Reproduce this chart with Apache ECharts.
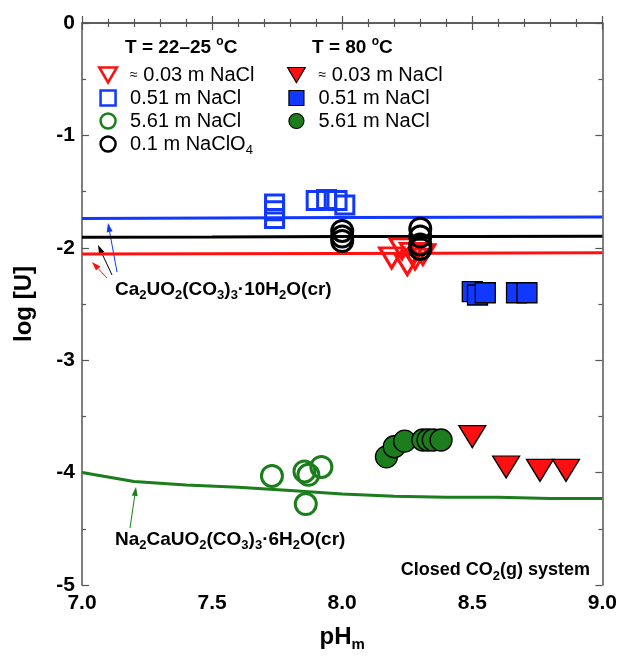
<!DOCTYPE html>
<html><head><meta charset="utf-8">
<script src="https://cdn.jsdelivr.net/npm/echarts@6/dist/echarts.min.js"></script>
<style>html,body{margin:0;padding:0;background:#fff}#c{width:620px;height:657px}</style>
</head><body><div id="c"></div>
<script>
// ---- data (pH_m, log[U]) ----
const redOpen = [[8.19,-2.09],[8.23,-2.01],[8.25,-2.15],[8.28,-2.10],[8.31,-2.06],[8.27,-2.05]];
const blueOpen = [[7.74,-1.61],[7.74,-1.67],[7.74,-1.74],[7.90,-1.58],[7.94,-1.57],[7.98,-1.58],[8.01,-1.62]];
const greenOpen = [[7.73,-4.03],[7.855,-3.99],[7.87,-4.02],[7.92,-3.95],[7.86,-4.28]];
const blackOpen = [[8.00,-1.85],[8.00,-1.90],[8.00,-1.94],[8.30,-1.83],[8.30,-1.90],[8.30,-1.97],[8.30,-2.01]];
const redFilled = [[8.50,-3.68],[8.63,-3.95],[8.76,-3.98],[8.86,-3.98]];
const blueFilled = [[8.50,-2.39],[8.52,-2.42],[8.55,-2.40],[8.67,-2.40],[8.71,-2.40]];
const greenFilled = [[8.17,-3.86],[8.20,-3.77],[8.24,-3.72],[8.31,-3.71],[8.33,-3.71],[8.35,-3.71],[8.38,-3.71]];
// solubility curves
const blueCurve = [[7.0,-1.74],[8.0,-1.73],[9.0,-1.725]];
const blackCurve = [[7.0,-1.907],[7.5,-1.905],[8.0,-1.90],[8.5,-1.90],[9.0,-1.898]];
const redCurve = [[7.0,-2.055],[8.0,-2.05],[9.0,-2.045]];
const greenCurve = [[7.0,-4.0],[7.2,-4.08],[7.4,-4.11],[7.6,-4.13],[7.8,-4.16],[8.0,-4.19],[8.2,-4.21],[8.4,-4.22],[8.6,-4.22],[8.8,-4.23],[9.0,-4.23]];
// legend labels
const legendLeft = ['≈ 0.03 m NaCl (25)','0.51 m NaCl (25)','5.61 m NaCl (25)','0.1 m NaClO4 (25)'];
const legendRight = ['≈ 0.03 m NaCl (80)','0.51 m NaCl (80)','5.61 m NaCl (80)'];
const legendText = {
  '≈ 0.03 m NaCl (25)':'{ap|≈} 0.03 m NaCl','0.51 m NaCl (25)':'0.51 m NaCl','5.61 m NaCl (25)':'5.61 m NaCl',
  '0.1 m NaClO4 (25)':'0.1 m NaClO{sub|4}',
  '≈ 0.03 m NaCl (80)':'{ap|≈} 0.03 m NaCl','0.51 m NaCl (80)':'0.51 m NaCl','5.61 m NaCl (80)':'5.61 m NaCl'
};

const FONT = 'Liberation Sans, Arial, sans-serif';
const RED='#ff1010', BLUE='#1038ff', GREEN='#1b7d1b', BLACK='#000';
const TRI = 'path://M0,0L20,0L10,17Z';
const SQ = 'path://M0,0L10,0L10,10L0,10Z';

const chart = echarts.init(document.getElementById('c'), null, {renderer:'canvas'});

function openSeries(name, data, symbol, size, color){
  return {type:'scatter', name, data, symbol, symbolSize:size, z:5,
    itemStyle:{color:'transparent', borderColor:color, borderWidth:3, opacity:1}};
}
function filledSeries(name, data, symbol, size, color){
  return {type:'scatter', name, data, symbol, symbolSize:size, z:6,
    itemStyle:{color:color, borderColor:'#000', borderWidth:1.3, opacity:1}};
}
function lineSeries(data,color){
  return {type:'line', data, showSymbol:false, symbol:'none', z:2, silent:true,
    lineStyle:{color, width:3}};
}
function arrow(x1,y1,x2,y2,color){
  const dx=x2-x1, dy=y2-y1, L=Math.hypot(dx,dy), ux=dx/L, uy=dy/L, nx=-uy, ny=ux;
  const bx=x2-ux*9, by=y2-uy*9;
  return {type:'group', children:[
    {type:'line', shape:{x1,y1,x2:bx,y2:by}, style:{stroke:color, lineWidth:1}},
    {type:'polygon', shape:{points:[[x2,y2],[bx+nx*3,by+ny*3],[bx-nx*3,by-ny*3]]}, style:{fill:color}}
  ]};
}
const legendBase = {
  orient:'vertical', itemWidth:26, itemHeight:15, itemGap:3, selectedMode:false,
  formatter: n => legendText[n],
  textStyle:{fontFamily:FONT, fontSize:20, color:'#000', padding:[0,0,0,4],
    rich:{ap:{fontSize:14, fontFamily:FONT, color:'#000'}, sub:{fontSize:13, fontFamily:FONT, color:'#000', padding:[12,0,0,0]}}}
};
const subRich = {sub:{fontSize:13, fontWeight:'bold', fontFamily:FONT, padding:[12,0,0,0]}, sup:{fontSize:12, fontWeight:'bold', fontFamily:FONT, padding:[0,0,12,0]}};
const icons = [TRI, SQ, 'circle', 'circle'];

const option = {
  animation:false,
  backgroundColor:'#fff',
  grid:{left:82, right:16, top:23, bottom:65, containLabel:false},
  xAxis:[{
    type:'value', min:7, max:9, interval:0.5, position:'bottom',
    name:'pH{sub|m}', nameLocation:'middle', nameGap:38,
    nameTextStyle:{fontFamily:FONT, fontSize:24, fontWeight:'bold', color:'#000',
      rich:{sub:{fontSize:15, fontWeight:'bold', fontFamily:FONT, padding:[14,0,0,0]}}},
    axisLine:{lineStyle:{color:'#555', width:1.5}},
    axisTick:{inside:true, length:7, lineStyle:{color:'#555', width:1.2}},
    minorTick:{show:true, splitNumber:5, length:4, lineStyle:{color:'#555', width:1.2}},
    splitLine:{show:false},
    axisLabel:{fontFamily:FONT, fontSize:21, fontWeight:'bold', color:'#000', margin:8, formatter:v=>v.toFixed(1)}
  },{
    type:'value', min:7, max:9, interval:0.5, position:'top',
    axisLine:{lineStyle:{color:'#555', width:1.5}},
    axisTick:{inside:true, length:7, lineStyle:{color:'#555', width:1.2}},
    minorTick:{show:true, splitNumber:5, length:4, lineStyle:{color:'#555', width:1.2}},
    splitLine:{show:false}, axisLabel:{show:false}
  }],
  yAxis:[{
    type:'value', min:-5, max:0, interval:1, position:'left',
    name:'log [U]', nameLocation:'middle', nameGap:46, nameRotate:90,
    nameTextStyle:{fontFamily:FONT, fontSize:24, fontWeight:'bold', color:'#000'},
    axisLine:{lineStyle:{color:'#555', width:1.5}},
    axisTick:{inside:true, length:7, lineStyle:{color:'#555', width:1.2}},
    minorTick:{show:true, splitNumber:2, length:4, lineStyle:{color:'#555', width:1.2}},
    splitLine:{show:false},
    axisLabel:{fontFamily:FONT, fontSize:21, fontWeight:'bold', color:'#000', margin:7}
  },{
    type:'value', min:-5, max:0, interval:1, position:'right',
    axisLine:{lineStyle:{color:'#555', width:1.5}},
    axisTick:{inside:true, length:7, lineStyle:{color:'#555', width:1.2}},
    minorTick:{show:true, splitNumber:2, length:4, lineStyle:{color:'#555', width:1.2}},
    splitLine:{show:false}, axisLabel:{show:false}
  }],
  legend:[
    Object.assign({}, legendBase, {left:93, top:60, data:legendLeft.map((n,i)=>({name:n, icon:icons[i], itemStyle:{borderWidth:2.5}}))}),
    Object.assign({}, legendBase, {left:282, top:60, data:legendRight.map((n,i)=>({name:n, icon:icons[i], itemStyle:{borderWidth:1.2}}))})
  ],
  series:[
    lineSeries(blueCurve, BLUE), lineSeries(blackCurve, BLACK), lineSeries(redCurve, RED), lineSeries(greenCurve, GREEN),
    openSeries(legendLeft[0], redOpen, TRI, [24,20], RED),
    openSeries(legendLeft[1], blueOpen, SQ, 18, BLUE),
    openSeries(legendLeft[2], greenOpen, 'circle', 21, GREEN),
    openSeries(legendLeft[3], blackOpen, 'circle', 21, BLACK),
    filledSeries(legendRight[0], redFilled, TRI, [27,22], RED),
    filledSeries(legendRight[1], blueFilled, SQ, 20, BLUE),
    filledSeries(legendRight[2], greenFilled, 'circle', 22, GREEN)
  ],
  graphic:[
    {type:'text', left:125, top:36, style:{text:'T = 22–25 {sup|o}C', font:'bold 19px '+FONT, fill:'#000', rich:subRich}},
    {type:'text', left:312, top:36, style:{text:'T = 80 {sup|o}C', font:'bold 19px '+FONT, fill:'#000', rich:subRich}},
    {type:'text', left:115, top:280, style:{text:'Ca{sub|2}UO{sub|2}(CO{sub|3}){sub|3}·10H{sub|2}O(cr)', font:'bold 19px '+FONT, fill:'#000', rich:subRich}},
    {type:'text', left:115, top:530, style:{text:'Na{sub|2}CaUO{sub|2}(CO{sub|3}){sub|3}·6H{sub|2}O(cr)', font:'bold 19px '+FONT, fill:'#000', rich:subRich}},
    {type:'text', right:30, top:561, style:{text:'Closed CO{sub|2}(g) system', font:'bold 18px '+FONT, fill:'#000', rich:subRich}},
    arrow(107,278,92,262,RED),
    arrow(112,275,98,245,BLACK),
    arrow(117,272,108,223,BLUE),
    arrow(130,528,136,487,GREEN)
  ]
};
chart.setOption(option);
</script></body></html>
